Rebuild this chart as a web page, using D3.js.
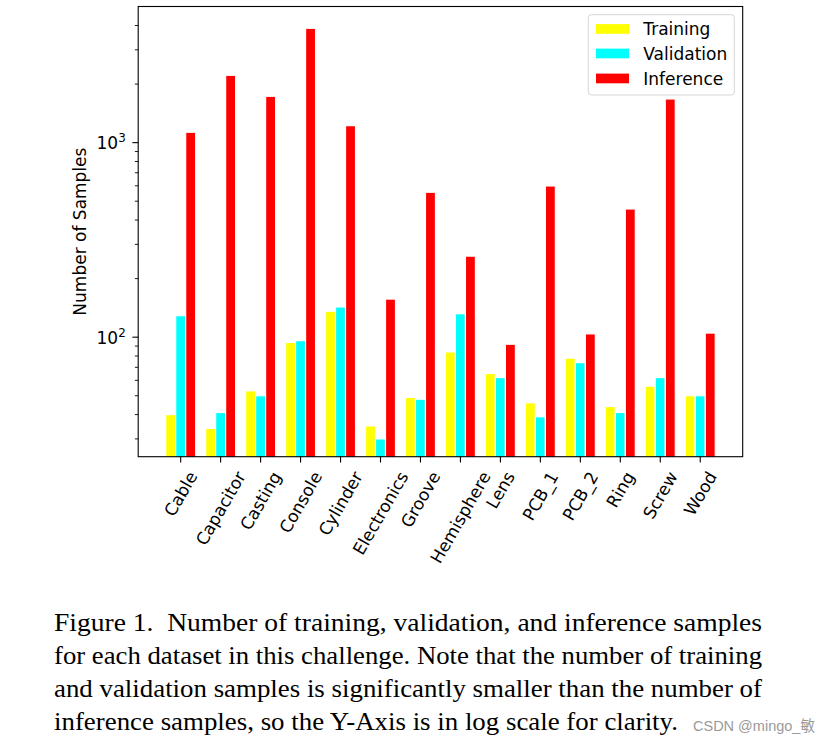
<!DOCTYPE html>
<html>
<head>
<meta charset="utf-8">
<script src="https://cdn.jsdelivr.net/npm/d3@7"></script>
<style>
  html, body { margin: 0; padding: 0; background: #fff; }
  svg { display: block; }
  .cap { font-family: "Liberation Serif", "DejaVu Serif", serif; fill: #000; white-space: pre; }
</style>
</head>
<body>
<svg id="chart" width="826" height="744"></svg>
<script>
const categories = ["Cable", "Capacitor", "Casting", "Console", "Cylinder", "Electronics", "Groove",
  "Hemisphere", "Lens", "PCB_1", "PCB_2", "Ring", "Screw", "Wood"];
const training   = [40, 34, 53, 94, 136, 35, 49, 84, 65, 46, 78, 44, 56, 50];
const validation = [129, 41, 50, 96, 143, 30, 48, 132, 62, 39, 74, 41, 62, 50];
const inference  = [1131, 2220, 1731, 3872, 1223, 157, 556, 261, 92, 599, 104, 456, 1677, 105];
const seriesNames = ["Training", "Validation", "Inference"];
const seriesColors = ["#ffff00", "#00ffff", "#ff0000"];
const majorTicks = [100, 1000];
const majorTickLabels = [["10", "2"], ["10", "3"]];
const minorTicks = [30, 40, 50, 60, 70, 80, 90, 200, 300, 400, 500, 600, 700, 800, 900, 2000, 3000, 4000];
const yLabel = "Number of Samples";
const captionLines = [
  "Figure 1.  Number of training, validation, and inference samples",
  "for each dataset in this challenge. Note that the number of training",
  "and validation samples is significantly smaller than the number of",
  "inference samples, so the Y-Axis is in log scale for clarity."
];
const watermark = "CSDN @mingo_敏";

const svg = d3.select("#chart");
const L = 138.2, R = 742.7, T = 6.5, B = 456.7;
const font = "DejaVu Sans";
const fs = 17;

const x = d3.scaleBand().domain(categories).range([L, R]).paddingInner(0).paddingOuter(0.5625);
const xs = d3.scaleBand().domain(seriesNames).range([x.bandwidth() / 2 - 15, x.bandwidth() / 2 + 15]);
const y = d3.scaleLog().domain([24.3, 5010]).range([B, T]);

const series = [training, validation, inference];
svg.append("clipPath").attr("id", "clip").append("rect")
  .attr("x", L).attr("y", T).attr("width", R - L).attr("height", B - T);

const gBars = svg.append("g").attr("clip-path", "url(#clip)");
series.forEach((vals, si) => {
  gBars.selectAll(null).data(vals).enter().append("rect")
    .attr("x", (d, i) => x(categories[i]) + xs(seriesNames[si]))
    .attr("width", xs.bandwidth())
    .attr("y", d => y(d))
    .attr("height", d => B + 2 - y(d))
    .attr("fill", seriesColors[si])
    .attr("stroke", "#fff")
    .attr("stroke-width", 1.2);
});

// frame
svg.append("rect").attr("x", L).attr("y", T).attr("width", R - L).attr("height", B - T)
  .attr("fill", "none").attr("stroke", "#000").attr("stroke-width", 1.1);

// x ticks
const gx = svg.append("g");
gx.selectAll("line").data(categories).enter().append("line")
  .attr("x1", d => x(d) + x.bandwidth() / 2).attr("x2", d => x(d) + x.bandwidth() / 2)
  .attr("y1", B).attr("y2", B + 5.8).attr("stroke", "#000").attr("stroke-width", 1.1);
const sin60 = Math.sin(Math.PI / 3), cos60 = 0.5, th = 19;
categories.forEach(c => {
  const cx = x(c) + x.bandwidth() / 2;
  const t = gx.append("text").text(c)
    .attr("font-family", font).attr("font-size", fs)
    .attr("text-anchor", "middle").attr("dominant-baseline", "central");
  const w = t.node().getComputedTextLength();
  const cy = B + 5.8 + 5.8 + (w / 2) * sin60 + (th / 2) * cos60;
  t.attr("transform", `translate(${cx},${cy}) rotate(-60)`);
});

// y ticks
const gy = svg.append("g");
gy.selectAll("line.minor").data(minorTicks).enter().append("line")
  .attr("x1", L - 3.3).attr("x2", L).attr("y1", d => y(d)).attr("y2", d => y(d))
  .attr("stroke", "#000").attr("stroke-width", 0.9);
gy.selectAll("line.major").data(majorTicks).enter().append("line")
  .attr("x1", L - 5.8).attr("x2", L).attr("y1", d => y(d)).attr("y2", d => y(d))
  .attr("stroke", "#000").attr("stroke-width", 1.1);
majorTicks.forEach((v, i) => {
  const t = gy.append("text").attr("font-family", font).attr("font-size", fs)
    .attr("x", 96.5).attr("y", y(v) + 6.5);
  t.append("tspan").text(majorTickLabels[i][0]);
  t.append("tspan").text(majorTickLabels[i][1]).attr("font-size", 11.9).attr("dy", -7);
});
svg.append("text").text(yLabel)
  .attr("font-family", font).attr("font-size", fs)
  .attr("text-anchor", "middle").attr("dominant-baseline", "central")
  .attr("transform", `translate(80,${(T + B) / 2}) rotate(-90)`);

// legend
const lg = svg.append("g");
lg.append("rect").attr("x", 588.3).attr("y", 14.7).attr("width", 146).attr("height", 80.3)
  .attr("rx", 3).attr("fill", "#fff").attr("fill-opacity", 0.8)
  .attr("stroke", "#d6d6d6").attr("stroke-width", 1);
const rowY = [29, 53.5, 78.5];
seriesNames.forEach((n, i) => {
  lg.append("rect").attr("x", 596).attr("y", rowY[i] - 4.9).attr("width", 33).attr("height", 9.7)
    .attr("fill", seriesColors[i]);
  lg.append("text").text(n).attr("x", 643.3).attr("y", rowY[i])
    .attr("font-family", font).attr("font-size", fs).attr("dominant-baseline", "central");
});

// caption
const capBase = [631, 664, 697, 730];
const capWidths = [708, 708, 708, 624];
captionLines.forEach((s, i) => {
  svg.append("text").attr("class", "cap").attr("x", 54).attr("y", capBase[i])
    .attr("font-size", 24.5).text(s)
    .attr("textLength", capWidths[i]).attr("lengthAdjust", "spacingAndGlyphs");
});
svg.append("text").text(watermark).attr("x", 693).attr("y", 731)
  .attr("font-family", "Liberation Sans, Noto Sans CJK SC, sans-serif").attr("font-size", 14.5)
  .attr("fill", "#9a9a9a");
</script>
</body>
</html>
